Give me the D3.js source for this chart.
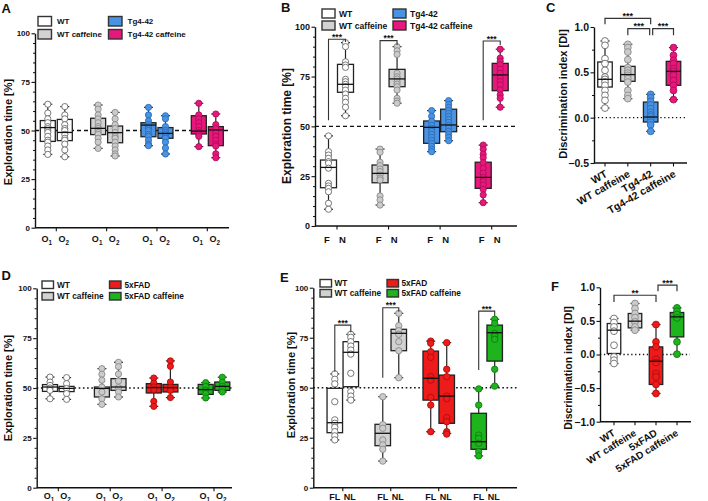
<!DOCTYPE html>
<html><head><meta charset="utf-8">
<script src="https://cdn.jsdelivr.net/npm/d3@7"></script>
<style>body{margin:0;background:#fff} svg{display:block}</style>
</head><body><svg id="c" width="708" height="501"></svg>
<script>
// ---------------- DATA ----------------
const groupsTg = ["WT", "WT caffeine", "Tg4-42", "Tg4-42 caffeine"];
const groupsFAD = ["WT", "WT caffeine", "5xFAD", "5xFAD caffeine"];
const subsObj = ["O1", "O2"];
const subsFN = ["F", "N"];
const subsLoc = ["FL", "NL"];
const ticksPct = [0, 25, 50, 75, 100];
const ticksDIc = [-0.5, 0, 0.5, 1.0];
const ticksDIf = [-1, -0.5, 0, 0.5, 1];

// box stats: [min, q1, median, q3, max], order: group1-sub1, group1-sub2, ...
const A_stats = [[37.7,44.4,51.5,55.1,63.5],[36.5,44.8,49,55.7,62.3],[40.8,47.9,51.1,56.3,63.1],[36.9,43.7,48.9,52.3,59.3],
                 [42.2,46.8,52.8,54,61.9],[37.9,46,48.5,51.5,57.6],[41.7,48.2,49.7,57.6,64],[36,42.2,50.3,52,58.5]];
const A_pts = [[63.5,59,56,54,52,51,50,49,47,45,44,42,40,37.7],[62.3,58,56,53,51,50,48,46,45,43,40,36.5],
               [63.1,61,58,56,54,52,51,50,49,48,46,44,40.8],[59.3,56,53,51,49,47,46,44,42,40,38,36.9],
               [61.9,58,55,53,52,51,50,48,47,45,43,42.2],[57.6,56,52,50,49,48,47,46,44,41,37.9],
               [64,58,56,54,52,50,49,48,47,41.7],[58.5,53,51,49,47,45,43,42,38,36]];

const B_stats = [[8.4,19.2,29.4,33.1,45.2],[55.3,67.1,71.1,81.1,92],[10.5,21.7,26.4,30.6,38.6],[61.6,69.9,73.8,78.6,90],
                 [37.3,41.5,49.5,52.7,57.9],[42.8,47.3,50.7,58.6,62.9],[11.7,18.9,24.4,32,40.6],[59.6,67.9,75.8,81.6,88.7]];
const B_pts = [[45.2,37.3,35.6,34,32.3,31.5,29,21.4,20.1,18.9,17.2,11.4,8.4],
               [92,90,82.4,80.8,79.6,73.6,72.4,71.1,69.9,68.2,66.2,64.1,62.1,59.6,55.3],
               [38.6,37,32,30.3,28.6,27.3,25.6,24,23.1,15.1,13.1,10.5],
               [90,87.9,86.1,76.6,74.9,73.8,72.4,71.2,69.9,68.2,64.1,62.7,61.6],
               [57.9,55,52.5,50.5,49,47.5,46,44.5,43,41.5,40,38.5,37.3],
               [62.9,61,59.5,58,56.5,55,53.5,52,50.5,49,47.5,46,44.5,42.8],
               [40.6,38.5,36,34.3,31.8,29,26.5,24.4,22.3,20.6,18.4,15.6,11.7],
               [88.7,84.2,82.6,80.9,78.7,76.7,74.2,72.5,70.8,68.3,65.8,64.1,59.6]];
// significance: [group index, bracket top, left leg bottom, right leg bottom, label]
const B_sig = [[0,93.7,53,92.3,"***"],[1,93,53,90.8,"***"],[3,92.8,53,90.8,"***"]];

const C_stats = [[0.106,0.338,0.423,0.614,0.846],[0.21,0.401,0.475,0.566,0.809],[-0.151,-0.048,0.007,0.172,0.257],[0.199,0.357,0.511,0.621,0.773]];
const C_pts = [[0.846,0.798,0.651,0.596,0.522,0.448,0.423,0.393,0.357,0.301,0.246,0.191,0.106],
               [0.809,0.773,0.724,0.64,0.552,0.522,0.492,0.467,0.43,0.393,0.301,0.246,0.21],
               [0.257,0.22,0.18,0.14,0.1,0.06,0.03,0.01,-0.02,-0.05,-0.08,-0.151],
               [0.773,0.688,0.632,0.596,0.541,0.511,0.467,0.412,0.357,0.301,0.199]];
// [from index, to index, bracket level, leg bottom, label]
const C_sig = [[0,2,1.096,1.03,"***"],[1,2,0.982,0.908,"***"],[2,3,0.982,0.908,"***"]];

const D_stats = [[44.6,48.3,50.5,51.7,55.5],[44.3,48.2,49.8,50.8,55.2],[41.8,45.5,49.8,50.5,59.7],[45.5,48.8,50.5,54.7,62.9],
                 [40.8,47.5,50.2,52.2,55],[45.2,48,50.2,51.8,63.6],[45,46.8,49.2,51.8,52.7],[48,48.8,50.8,53,55.4]];
const D_pts = [[55.5,53,51.3,50,48.8,44.6],[55.2,52.2,49.7,47.2,44.3],[59.7,56.9,53.9,50.5,48,44.6,41.8],
               [62.9,60.7,57,53.5,50.2,48,45.5],[55,52.5,50.5,49.2,43.3,40.8],[63.6,60.9,53,50.2,48.8,45.2],
               [52.7,50.8,48.8,47.2,45],[55.4,53,50.8,49.7,48]];

const E_stats = [[23.9,27.5,32.5,49.7,56.9],[43.8,50.5,67.7,73,76.7],[13.3,21,27.2,31.7,45.5],[55,68.5,77.2,79.2,87.2],
                 [28,43.8,54.7,68.3,73.3],[27.2,32.2,45.8,56.3,72.5],[15.9,19.2,23,37.2,49.4],[50.8,63.3,77.5,81.3,84.2]];
const E_pts = [[56.9,54.2,51.9,43,33.9,32.2,30.2,28,25.9,23.9],[76.7,75.2,73,70.8,68.8,66.8,57.2,48,45.8,43.8],
               [45.5,31.5,29.7,23.9,21.4,19.2,13.3],[87.2,81,78.5,76.7,73,68.5,55],
               [73.3,72.2,68,65.2,55.5,53.8,45.2,41.3,28],[72.5,59.2,55.5,45.8,44.5,35,33,28,26.8],
               [49.4,41.3,26.3,24.7,22.2,18,15.9],[84.2,82.2,77.2,75.8,74.2,59.2,50.8]];
const E_sig = [[0,81.3,58,77.7,"***"],[1,90,55,88,"***"],[3,88.3,58.8,85.8,"***"]];

const F_stats = [[-0.134,0.015,0.362,0.461,0.536],[0.362,0.396,0.496,0.61,0.759],[-0.58,-0.446,-0.1,0.113,0.446],[0.005,0.262,0.56,0.625,0.694]];
const F_pts = [[0.536,0.476,0.411,0.347,0.138,-0.036,-0.085,-0.134],[0.759,0.685,0.61,0.551,0.486,0.411,0.362],
               [0.446,0.188,0.113,-0.07,-0.119,-0.283,-0.333,-0.446,-0.58],[0.694,0.644,0.595,0.545,0.188,0.005]];
const F_sig = [[0,2,0.882,0.783,"**"],[2,3,1.031,0.942,"***"]];

// ---------------- STYLE ----------------
const FONT = '"Liberation Sans", Arial, Helvetica, sans-serif';
const STY = {
  white: {box:"#ffffff", pt:"#ffffff", ps:"#6a6a6a"},
  grey:  {box:"#d2d2d2", pt:"#cbcbcb", ps:"#8a8a8a"},
  blue:  {box:"#4a93e3", pt:"#4a93e3", ps:"#2a6cb5"},
  pink:  {box:"#e8177c", pt:"#e8177c", ps:"#b00d5a"},
  red:   {box:"#ee1b1b", pt:"#ee1b1b", ps:"#b00c0c"},
  green: {box:"#1db41d", pt:"#1db41d", ps:"#0e800e"}
};
const palTg = ["white","grey","blue","pink"];
const palFAD = ["white","grey","red","green"];

const svg = d3.select("#c");

function txt(g, x, y, s, size, anchor) {
  return g.append("text").attr("x", x).attr("y", y).text(s)
    .attr("font-family", FONT).attr("font-weight", "bold").attr("font-size", size)
    .attr("text-anchor", anchor || "start").attr("fill", "#111");
}

function yAxis(g, y, x, ticks, minorStep, fmt, size) {
  const ax = g.append("g").attr("transform", `translate(${x},0)`)
    .call(d3.axisLeft(y).tickValues(ticks).tickFormat(fmt).tickSize(3.5).tickSizeOuter(0).tickPadding(1.5));
  ax.attr("font-family", FONT).attr("font-size", size).attr("font-weight", "bold");
  ax.selectAll("text").attr("fill", "#111");
  ax.select(".domain").attr("stroke", "#111").attr("stroke-width", 1.4);
  ax.selectAll(".tick line").attr("stroke", "#111").attr("stroke-width", 1.1);
  const [d0, d1] = y.domain();
  const minor = d3.range(d0, d1 + 1e-9, minorStep).filter(v => !ticks.some(t => Math.abs(t - v) < 1e-9));
  g.append("g").attr("transform", `translate(${x},0)`)
    .call(d3.axisLeft(y).tickValues(minor).tickFormat("").tickSize(2).tickSizeOuter(0))
    .call(s => { s.select(".domain").remove(); s.selectAll("line").attr("stroke", "#111").attr("stroke-width", 1); });
}

function xAxis(g, y, x0, x1, tickXs) {
  const yb = y.range()[0];
  g.append("line").attr("x1", x0).attr("x2", x1).attr("y1", yb).attr("y2", yb).attr("stroke", "#111").attr("stroke-width", 1.4);
  tickXs.forEach(t => g.append("line").attr("x1", t).attr("x2", t).attr("y1", yb).attr("y2", yb + 3.5).attr("stroke", "#111").attr("stroke-width", 1.1));
}

function refLine(g, y, v, x0, x1, dash, sw) {
  g.append("line").attr("x1", x0).attr("x2", x1).attr("y1", y(v)).attr("y2", y(v))
    .attr("stroke", "#111").attr("stroke-width", sw).attr("stroke-dasharray", dash);
}

function boxes(g, y, centers, stats, pts, styles, w, r) {
  centers.forEach((cx, i) => {
    const [mn, q1, md, q3, mx] = stats[i];
    const s = STY[styles[i]];
    g.append("line").attr("x1", cx).attr("x2", cx).attr("y1", y(mx)).attr("y2", y(mn)).attr("stroke", "#222").attr("stroke-width", 1.2);
    [mn, mx].forEach(v => g.append("line").attr("x1", cx - 4.5).attr("x2", cx + 4.5).attr("y1", y(v)).attr("y2", y(v)).attr("stroke", "#222").attr("stroke-width", 1.2));
    g.append("rect").attr("x", cx - w / 2).attr("y", y(q3)).attr("width", w).attr("height", y(q1) - y(q3))
      .attr("fill", s.box).attr("stroke", "#222").attr("stroke-width", 1.3);
    g.selectAll(null).data(pts[i]).join("circle").attr("cx", cx).attr("cy", d => y(d)).attr("r", r)
      .attr("fill", s.pt).attr("stroke", s.ps).attr("stroke-width", 0.9);
    g.append("line").attr("x1", cx - w / 2).attr("x2", cx + w / 2).attr("y1", y(md)).attr("y2", y(md)).attr("stroke", "#111").attr("stroke-width", 1.3);
  });
}

function yLabel(g, x, y, s, size) {
  g.append("text").attr("transform", `translate(${x},${y}) rotate(-90)`).text(s)
    .attr("font-family", FONT).attr("font-weight", "bold").attr("font-size", size)
    .attr("text-anchor", "middle").attr("fill", "#111");
}

function subLabel(g, x, y, s, size) {
  const t = g.append("text").attr("x", x).attr("y", y).attr("text-anchor", "middle")
    .attr("font-family", FONT).attr("font-weight", "bold").attr("font-size", size).attr("fill", "#111");
  if (s[0] === "O") {
    t.append("tspan").text(s[0]);
    t.append("tspan").text(s.slice(1)).attr("font-size", size * 0.7).attr("dy", 2.5);
  } else t.text(s);
}

function legend(g, x0, x1, y0, y1, rw, rh, tx, names, pal, size) {
  const pos = [[x0, y0], [x0, y1], [x1, y0], [x1, y1]];
  names.forEach((n, i) => {
    const [x, y] = pos[i];
    g.append("rect").attr("x", x).attr("y", y).attr("width", rw).attr("height", rh)
      .attr("fill", STY[pal[i]].box).attr("stroke", "#333").attr("stroke-width", 1.4);
    txt(g, x + rw + tx, y + rh / 2 + size * 0.36, n, size);
  });
}

function paired(g, y, xs, sig, size) {
  sig.forEach(([gi, top, lb, rb, lab]) => {
    const xl = xs[gi * 2], xr = xs[gi * 2 + 1];
    g.append("path").attr("d", `M${xl},${y(lb)}V${y(top)}H${xr}V${y(rb)}`)
      .attr("fill", "none").attr("stroke", "#333").attr("stroke-width", 1.1);
    txt(g, (xl + xr) / 2, y(top) + 0.5, lab, size, "middle");
  });
}

function across(g, y, xs, sig, size) {
  sig.forEach(([a, b, lev, leg, lab]) => {
    const xl = xs[a] + (a === 2 && b === 3 ? 2 : 0), xr = xs[b] - (a === 1 && b === 2 ? 1 : 0);
    g.append("path").attr("d", `M${xl},${y(leg)}V${y(lev)}H${xr}V${y(leg)}`)
      .attr("fill", "none").attr("stroke", "#333").attr("stroke-width", 1.2);
    txt(g, (xl + xr) / 2, y(lev) + 0.5, lab, size, "middle");
  });
}

function groupedCenters(groups, subs, r0, r1, off) {
  const gx = d3.scalePoint().domain(groups).range([r0, r1]);
  const sx = d3.scalePoint().domain(subs).range([-off, off]);
  const centers = [], gticks = [];
  groups.forEach(gr => { gticks.push(gx(gr)); subs.forEach(s => centers.push(gx(gr) + sx(s))); });
  return {centers, gticks};
}

// ---------------- PANEL A ----------------
{
  const g = svg.append("g");
  const y = d3.scaleLinear().domain([0, 100]).range([227.7, 33.3]);
  const {centers, gticks} = groupedCenters(groupsTg, subsObj, 56.3, 207.3, 8.5);
  refLine(g, y, 50, 35, 230, "4,3", 1.3);
  yAxis(g, y, 35, ticksPct, 5, d3.format("d"), 8);
  xAxis(g, y, 35, 229, gticks);
  boxes(g, y, centers, A_stats, A_pts, palTg.flatMap(p => [p, p]), 15, 3.1);
  centers.forEach((c, i) => subLabel(g, c - 1, 242, subsObj[i % 2], 9));
  txt(g, 1.5, 13, "A", 13);
  yLabel(g, 11.5, 132, "Exploration time [%]", 11);
  legend(g, 38, 108.5, 16.5, 29.5, 13.5, 9.5, 5.5, groupsTg, palTg, 8);
}
// ---------------- PANEL B ----------------
{
  const g = svg.append("g");
  const y = d3.scaleLinear().domain([0, 100]).range([226, 26.7]);
  const {centers, gticks} = groupedCenters(groupsTg, subsFN, 337, 491.7, 8.5);
  refLine(g, y, 50, 315, 516, "4,3", 1.3);
  yAxis(g, y, 315, ticksPct, 5, d3.format("d"), 9);
  xAxis(g, y, 315, 517, gticks);
  boxes(g, y, centers, B_stats, B_pts, palTg.flatMap(p => [p, p]), 16, 3.1);
  paired(g, y, centers, B_sig, 8.5);
  centers.forEach((c, i) => subLabel(g, c + (i % 2 ? -3 : -1.5), 243, subsFN[i % 2], 9.5));
  txt(g, 281, 12, "B", 13);
  yLabel(g, 291, 126, "Exploration time [%]", 12);
  legend(g, 322, 393, 9, 21, 13, 9, 4, groupsTg, palTg, 8.6);
}
// ---------------- PANEL C ----------------
{
  const g = svg.append("g");
  const y = d3.scaleLinear().domain([-0.5, 1.0]).range([163, 27]);
  const x = d3.scalePoint().domain(groupsTg).range([605, 673.5]);
  const xs = groupsTg.map(d => x(d));
  refLine(g, y, 0, 594, 687, "1.3,2.6", 1.3);
  yAxis(g, y, 594, ticksDIc, 0.25, d3.format(".1f"), 10.5);
  xAxis(g, y, 594, 687, xs);
  boxes(g, y, xs, C_stats, C_pts, palTg, 14.5, 3.4);
  across(g, y, xs, C_sig, 9);
  groupsTg.forEach((n, i) => g.append("text").text(n)
    .attr("transform", `translate(${xs[i] + 3},${y.range()[0] + 13}) rotate(-30)`)
    .attr("text-anchor", "end").attr("font-family", FONT).attr("font-weight", "bold").attr("font-size", 10.5).attr("fill", "#111"));
  txt(g, 546, 12, "C", 13);
  yLabel(g, 566.5, 94, "Discrimination index [DI]", 11);
}
// ---------------- PANEL D ----------------
{
  const g = svg.append("g");
  const y = d3.scaleLinear().domain([0, 100]).range([487.7, 288.3]);
  const {centers, gticks} = groupedCenters(groupsFAD, subsObj, 58.3, 214, 8.3);
  refLine(g, y, 50, 36.7, 233, "1.6,2.6", 1.6);
  yAxis(g, y, 36.7, ticksPct, 5, d3.format("d"), 8);
  xAxis(g, y, 36.7, 232, gticks);
  boxes(g, y, centers, D_stats, D_pts, palFAD.flatMap(p => [p, p]), 15, 3.1);
  centers.forEach((c, i) => subLabel(g, c - 1, 499, subsObj[i % 2], 9));
  txt(g, 1.5, 280, "D", 13);
  yLabel(g, 11.5, 388, "Exploration time [%]", 11);
  legend(g, 42, 109.5, 281, 292.5, 11.5, 7.5, 3.5, groupsFAD, palFAD, 8.3);
}
// ---------------- PANEL E ----------------
{
  const g = svg.append("g");
  const y = d3.scaleLinear().domain([0, 100]).range([487.7, 287.7]);
  const {centers, gticks} = groupedCenters(groupsFAD, subsLoc, 342.8, 486.7, 8);
  refLine(g, y, 50, 313.3, 517, "1.6,2.6", 1.6);
  yAxis(g, y, 313.3, ticksPct, 5, d3.format("d"), 8);
  xAxis(g, y, 313.3, 517, gticks);
  boxes(g, y, centers, E_stats, E_pts, palFAD.flatMap(p => [p, p]), 15.5, 3.2);
  paired(g, y, centers, E_sig, 8.5);
  centers.forEach((c, i) => subLabel(g, c + (i % 2 ? -1 : 0), 500, subsLoc[i % 2], 9));
  txt(g, 280, 282, "E", 13);
  yLabel(g, 295, 385, "Exploration time [%]", 11);
  legend(g, 320, 387, 279.5, 289.5, 11.5, 7.5, 3, groupsFAD, palFAD, 8.3);
}
// ---------------- PANEL F ----------------
{
  const g = svg.append("g");
  const y = d3.scaleLinear().domain([-1, 1]).range([421.7, 287.3]);
  const x = d3.scalePoint().domain(groupsFAD).range([614, 677]);
  const xs = groupsFAD.map(d => x(d));
  refLine(g, y, 0, 600, 690, "1.3,2.6", 1.3);
  yAxis(g, y, 600, ticksDIf, 0.25, d3.format(".1f"), 10.5);
  xAxis(g, y, 600, 691, xs);
  boxes(g, y, xs, F_stats, F_pts, palFAD, 13.5, 3.4);
  across(g, y, xs, F_sig, 9);
  groupsFAD.forEach((n, i) => g.append("text").text(n)
    .attr("transform", `translate(${xs[i] + 2},${y.range()[0] + 13}) rotate(-32)`)
    .attr("text-anchor", "end").attr("font-family", FONT).attr("font-weight", "bold").attr("font-size", 10).attr("fill", "#111"));
  txt(g, 551, 291, "F", 13);
  yLabel(g, 571.5, 368, "Discrimination index [DI]", 10.5);
}
</script></body></html>
